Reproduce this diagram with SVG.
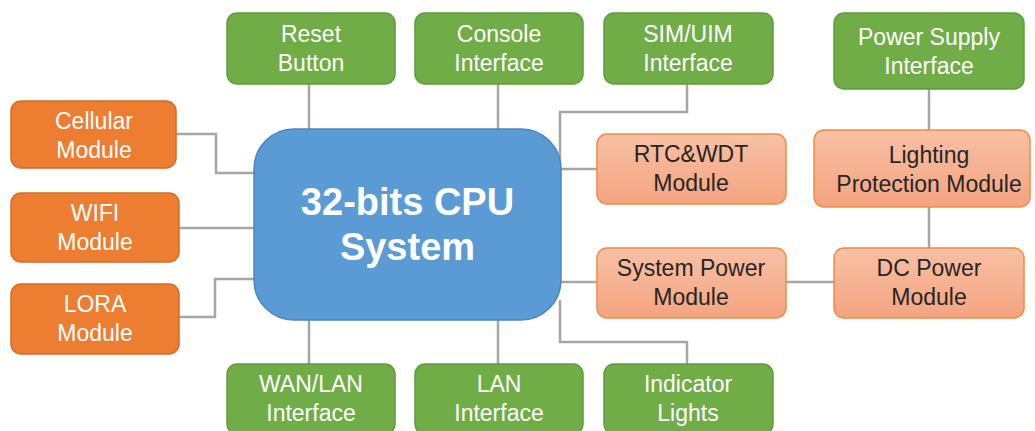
<svg xmlns="http://www.w3.org/2000/svg" width="1035" height="431" viewBox="0 0 1035 431">
<defs>
<linearGradient id="lo" x1="0" y1="0" x2="0" y2="1">
<stop offset="0" stop-color="#f8c0a5"/>
<stop offset="1" stop-color="#f4a47f"/>
</linearGradient>
<style>
.g{fill:#70ad47;stroke:#609a3c;stroke-width:1.5}
.o{fill:#ed7d31;stroke:#d46c26;stroke-width:1.5}
.l{fill:url(#lo);stroke:#f08a48;stroke-width:1.5}
.b{fill:#5b9bd5;stroke:#4a86bd;stroke-width:1.5}
text{font-family:"Liberation Sans",Arial,sans-serif;font-size:23px;text-anchor:middle}
.w{fill:#ffffff}
.d{fill:#262626}
.big{font-size:38px;font-weight:bold;fill:#ffffff}
.c{fill:none;stroke:#a6a6a6;stroke-width:2.5}
</style>
</defs>
<rect width="1035" height="431" fill="#ffffff"/>
<g id="connectors">
<path class="c" d="M309 84V129"/>
<path class="c" d="M498 84V129"/>
<path class="c" d="M687 84V112H560V169H597"/>
<path class="c" d="M176 134H216V173H254"/>
<path class="c" d="M179 228H254"/>
<path class="c" d="M179 317H215V279H254"/>
<path class="c" d="M309 320V364"/>
<path class="c" d="M498 320V364"/>
<path class="c" d="M560 300V342H687V364"/>
<path class="c" d="M561 282H597"/>
<path class="c" d="M786 282H834"/>
<path class="c" d="M929 89V130"/>
<path class="c" d="M929 207V248"/>
</g>
<g id="reset"><rect class="g" x="227" y="13" width="168" height="71" rx="10"/><text class="w" x="311" y="42">Reset</text><text class="w" x="311" y="71">Button</text></g>
<g id="console"><rect class="g" x="415" y="13" width="168" height="71" rx="10"/><text class="w" x="499" y="42">Console</text><text class="w" x="499" y="71">Interface</text></g>
<g id="sim"><rect class="g" x="604" y="13" width="169" height="71" rx="10"/><text class="w" x="688" y="42">SIM/UIM</text><text class="w" x="688" y="71">Interface</text></g>
<g id="psu"><rect class="g" x="834" y="13" width="190" height="76" rx="10"/><text class="w" x="929" y="45">Power Supply</text><text class="w" x="929" y="74">Interface</text></g>
<g id="cellular"><rect class="o" x="11" y="101" width="165" height="67" rx="10"/><text class="w" x="94" y="129">Cellular</text><text class="w" x="94" y="158">Module</text></g>
<g id="wifi"><rect class="o" x="11" y="193" width="168" height="69" rx="10"/><text class="w" x="95" y="221">WIFI</text><text class="w" x="95" y="250">Module</text></g>
<g id="lora"><rect class="o" x="11" y="284" width="168" height="70" rx="10"/><text class="w" x="95" y="312">LORA</text><text class="w" x="95" y="341">Module</text></g>
<g id="cpu"><rect class="b" x="254" y="129" width="307" height="191" rx="40"/><text class="big" x="407.5" y="215">32-bits CPU</text><text class="big" x="407.5" y="260">System</text></g>
<g id="rtc"><rect class="l" x="597" y="134" width="189" height="70" rx="10"/><text class="d" x="691" y="162">RTC&amp;WDT</text><text class="d" x="691" y="191">Module</text></g>
<g id="lighting"><rect class="l" x="814" y="130" width="216" height="77" rx="10"/><text class="d" x="929" y="163">Lighting</text><text class="d" x="929" y="192">Protection Module</text></g>
<g id="syspower"><rect class="l" x="597" y="248" width="189" height="70" rx="10"/><text class="d" x="691" y="276">System Power</text><text class="d" x="691" y="305">Module</text></g>
<g id="dcpower"><rect class="l" x="834" y="248" width="190" height="70" rx="10"/><text class="d" x="929" y="276">DC Power</text><text class="d" x="929" y="305">Module</text></g>
<g id="wanlan"><rect class="g" x="227" y="364" width="168" height="70" rx="10"/><text class="w" x="311" y="392">WAN/LAN</text><text class="w" x="311" y="421">Interface</text></g>
<g id="lan"><rect class="g" x="415" y="364" width="168" height="70" rx="10"/><text class="w" x="499" y="392">LAN</text><text class="w" x="499" y="421">Interface</text></g>
<g id="indicator"><rect class="g" x="604" y="364" width="169" height="70" rx="10"/><text class="w" x="688" y="392">Indicator</text><text class="w" x="688" y="421">Lights</text></g>
</svg>
